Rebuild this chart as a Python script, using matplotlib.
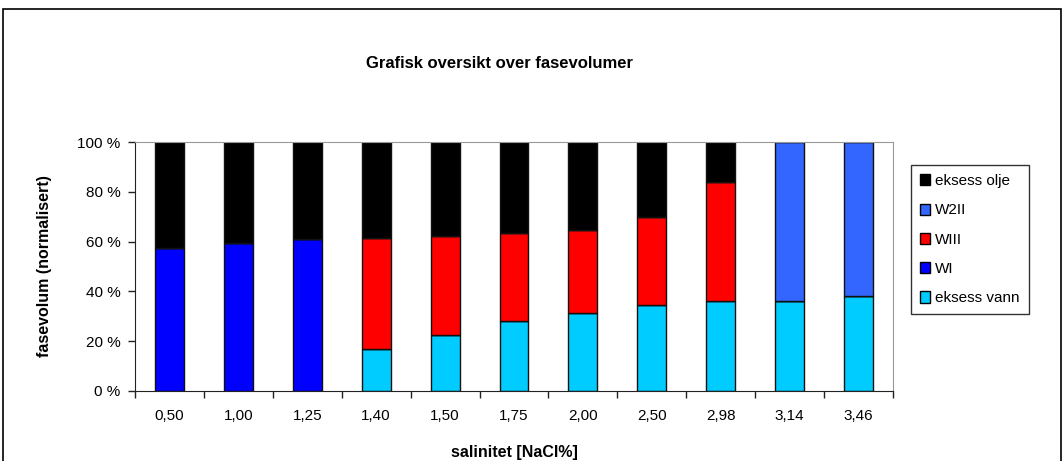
import numpy as np
import matplotlib
matplotlib.use("Agg")
import matplotlib.pyplot as plt
from matplotlib.patches import Rectangle, Patch

plt.rcParams['font.family'] = ['Liberation Sans', 'DejaVu Sans']

salinitet = ['0,50', '1,00', '1,25', '1,40', '1,50', '1,75', '2,00', '2,50', '2,98', '3,14', '3,46']

eksess_vann = [0, 0, 0, 16.8, 22.4, 28.1, 31.2, 34.6, 36.2, 36.2, 38.2]
wi = [57.6, 59.5, 61.1, 0, 0, 0, 0, 0, 0, 0, 0]
wiii = [0, 0, 0, 44.8, 39.9, 35.5, 33.6, 35.3, 47.9, 0, 0]
w2ii = [0, 0, 0, 0, 0, 0, 0, 0, 0, 63.8, 61.8]
eksess_olje = [42.4, 40.5, 38.9, 38.4, 37.7, 36.4, 35.2, 30.1, 15.9, 0, 0]

series = [
    ('eksess vann', eksess_vann, '#00CCFF'),
    ('WI', wi, '#0000FF'),
    ('WIII', wiii, '#FF0000'),
    ('W2II', w2ii, '#3366FF'),
    ('eksess olje', eksess_olje, '#000000'),
]

W, H = 1064, 461
fig = plt.figure(figsize=(W / 100, H / 100), dpi=100)
ax = fig.add_axes([135 / W, 1 - 390.7 / H, (893 - 135) / W, (390.7 - 142.3) / H])

x = np.arange(len(salinitet))
bottom = np.zeros(len(x))
for name, vals, col in series:
    vals = np.array(vals, dtype=float)
    ax.bar(x, vals, bottom=bottom, width=0.42, color=col,
           edgecolor='#111111', linewidth=1.0)
    bottom += vals

ax.set_xlim(-0.5, len(x) - 0.5)
ax.set_ylim(0, 100)
ax.set_yticks(np.arange(0, 101, 20))
ax.set_yticklabels([f'{v} %' for v in range(0, 101, 20)], fontsize=11)
ax.set_xticks(x)
ax.set_xticklabels(salinitet, fontsize=11)
ax.set_xticks(np.arange(-0.5, len(x), 1), minor=True)
ax.tick_params(axis='x', which='major', length=0, pad=13)
ax.tick_params(axis='x', which='minor', length=5, width=1, color='#222222')
ax.tick_params(axis='y', length=5, width=1, color='#222222', pad=5.5)

for s in ['top', 'right']:
    ax.spines[s].set_color('#999999')
for s in ['left', 'bottom']:
    ax.spines[s].set_color('#222222')

ax.set_xlabel('salinitet [NaCl%]', fontsize=11.5, fontweight='bold', labelpad=16)
ax.set_ylabel('fasevolum (normalisert)', fontsize=11.5, fontweight='bold', labelpad=18)

fig.text(500 / W, 1 - 63 / H, 'Grafisk oversikt over fasevolumer', fontsize=12,
         fontweight='bold', ha='center', va='center')

handles = [Patch(facecolor=col, edgecolor='black', linewidth=1, label=name)
           for name, vals, col in reversed(series)]
leg = fig.legend(handles=handles, loc='upper left',
                 bbox_to_anchor=(910.5 / W, 1 - 165 / H), fontsize=11,
                 frameon=True, fancybox=False, edgecolor='black',
                 handlelength=0.65, handleheight=0.75, handletextpad=0.35,
                 labelspacing=1.0, borderpad=0.6, borderaxespad=0)
leg.get_frame().set_linewidth(1)

fig.patches.append(Rectangle((3 / W, -0.1), (1061 - 3) / W, 1.1 - 9 / H,
                             transform=fig.transFigure, fill=False,
                             edgecolor='black', linewidth=1.2))

fig.savefig('out.png', dpi=100)
